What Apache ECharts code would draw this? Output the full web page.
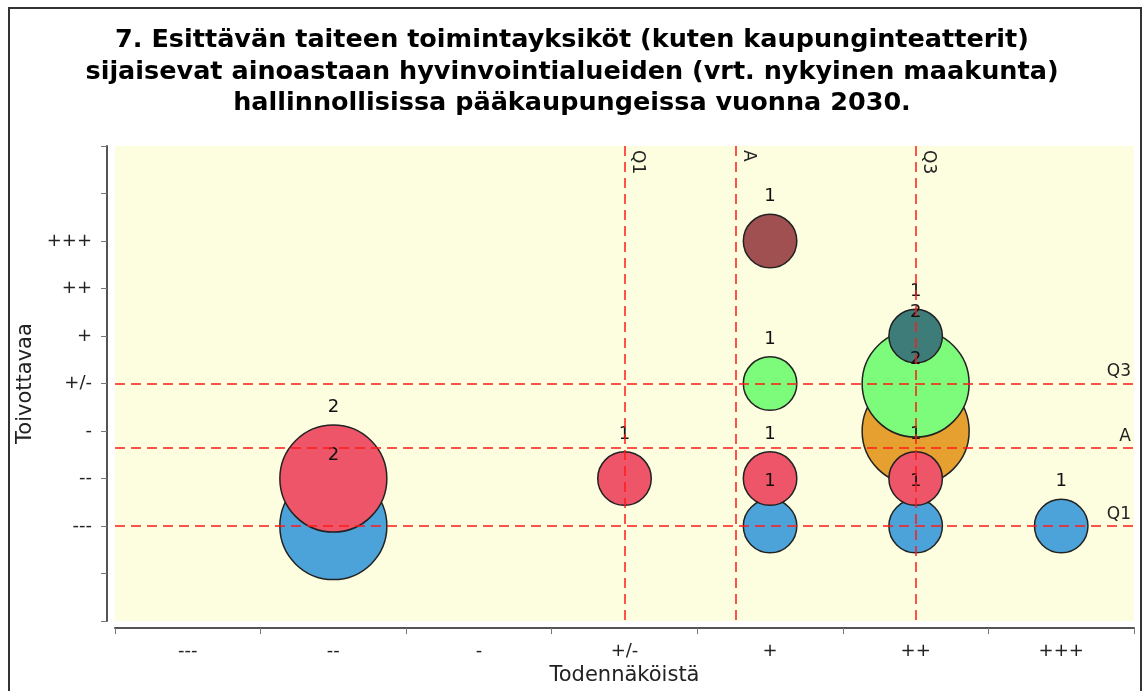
<!DOCTYPE html>
<html>
<head>
<meta charset="utf-8">
<script src="https://cdn.jsdelivr.net/npm/echarts@6/dist/echarts.min.js"></script>
<style>
  html, body { margin: 0; padding: 0; background: #fff; }
  #chart { width: 1144px; height: 691px; }
</style>
</head>
<body>
<div id="chart"></div>
<script>
// akselien luokat
var xCats = ['---', '--', '-', '+/-', '+', '++', '+++'];
var yCats = ['---', '--', '-', '+/-', '+', '++', '+++'];

// kuplat: x-luokka, y-luokka, vastausten määrä
var bubbleX = [1, 4, 5, 6, 1, 3, 4, 5, 5, 4, 5, 5, 4];
var bubbleY = [0, 0, 0, 0, 1, 1, 1, 1, 2, 3, 3, 4, 6];
var bubbleN = [2, 1, 1, 1, 2, 1, 1, 1, 2, 1, 2, 1, 1];

// väri rivin (toivottavuus) mukaan
var rowColors = ['#4ca3d9', '#ef5568', '#e5a030', '#7dfc7b', '#3e7c7a', '#3e7c7a', '#a05050'];

// kvartiilit
var quartX = [3, 5];
var quartY = [0, 3];

function mean(vals, w) {
  var s = 0, n = 0;
  for (var i = 0; i < vals.length; i++) { s += vals[i] * w[i]; n += w[i]; }
  return s / n;
}
var meanX = mean(bubbleX, bubbleN);
var meanY = mean(bubbleY, bubbleN);

// isot kuplat ensin, sitten alhaalta ylös
var order = bubbleX.map(function (v, i) { return i; });
order.sort(function (a, b) {
  if (bubbleN[b] !== bubbleN[a]) return bubbleN[b] - bubbleN[a];
  return bubbleY[a] - bubbleY[b];
});
var bubbles = order.map(function (i) {
  return {
    value: [bubbleX[i], bubbleY[i], bubbleN[i]],
    itemStyle: { color: rowColors[bubbleY[i]] }
  };
});

var font = 'DejaVu Sans';
var lineLabel = { color: '#222', fontFamily: font, fontSize: 17 };

function vLine(x, name) {
  return [
    { coord: [x, 8], label: Object.assign({ formatter: name, position: 'insideStartTop', distance: 4 }, lineLabel) },
    { coord: [x, -2] }
  ];
}
function hLine(y, name) {
  return [
    { coord: [-0.5, y], label: Object.assign({ formatter: name, position: 'insideEndTop', distance: 3 }, lineLabel) },
    { coord: [6.5, y] }
  ];
}

var chart = echarts.init(document.getElementById('chart'));
chart.setOption({
  animation: false,
  backgroundColor: '#fff',
  title: {
    text: '7. Esittävän taiteen toimintayksiköt (kuten kaupunginteatterit)\nsijaisevat ainoastaan hyvinvointialueiden (vrt. nykyinen maakunta)\nhallinnollisissa pääkaupungeissa vuonna 2030.',
    left: 'center',
    top: 20,
    textStyle: {
      fontFamily: font,
      fontWeight: 'bold',
      fontSize: 25.5,
      lineHeight: 31.5,
      color: '#000',
      align: 'center'
    }
  },
  graphic: [{
    type: 'rect',
    shape: { x: 9, y: 8, width: 1132, height: 700 },
    style: { fill: 'none', stroke: '#333', lineWidth: 2 },
    silent: true
  }],
  grid: {
    left: 115,
    right: 10,
    top: 146,
    bottom: 66,
    show: true,
    backgroundColor: '#fdfde0',
    borderWidth: 0
  },
  xAxis: [
    {
      type: 'category',
      data: xCats,
      boundaryGap: true,
      offset: 7,
      name: 'Todennäköistä',
      nameLocation: 'middle',
      nameGap: 35,
      nameTextStyle: { fontFamily: font, fontSize: 21, color: '#222' },
      axisLine: { show: true, onZero: false, lineStyle: { color: '#555', width: 2 } },
      axisTick: { show: true, length: 6, lineStyle: { color: '#777' } },
      axisLabel: { fontFamily: font, fontSize: 18, color: '#222', margin: 14 },
      splitLine: { show: false }
    },
    {
      type: 'value',
      min: -0.5,
      max: 6.5,
      show: false
    }
  ],
  yAxis: {
    type: 'value',
    min: -2,
    max: 8,
    interval: 1,
    offset: 8,
    name: 'Toivottavaa',
    nameLocation: 'middle',
    nameGap: 54,
    nameTextStyle: { fontFamily: font, fontSize: 21, color: '#222' },
    axisLine: { show: true, onZero: false, lineStyle: { color: '#555', width: 2 } },
    axisTick: { show: true, length: 6, lineStyle: { color: '#777' } },
    axisLabel: {
      fontFamily: font, fontSize: 18, color: '#222', margin: 15,
      formatter: function (v) { return yCats[v] || ''; }
    },
    splitLine: { show: false }
  },
  series: [{
    type: 'scatter',
    xAxisIndex: 1,
    data: bubbles,
    symbolSize: function (v) { return v[2] * 53.5; },
    itemStyle: { borderColor: '#222', borderWidth: 1.5, opacity: 1 },
    label: {
      show: true,
      position: 'top',
      distance: 8,
      formatter: function (p) { return p.value[2]; },
      fontFamily: font,
      fontSize: 18,
      color: '#111'
    },
    markLine: {
      silent: true,
      symbol: 'none',
      lineStyle: { color: '#ff1a1a', type: [10, 6], width: 1.5 },
      data: [
        vLine(quartX[0], 'Q1'),
        vLine(meanX, 'A'),
        vLine(quartX[1], 'Q3'),
        hLine(quartY[1], 'Q3'),
        hLine(meanY, 'A'),
        hLine(quartY[0], 'Q1')
      ]
    }
  }]
});
</script>
</body>
</html>
